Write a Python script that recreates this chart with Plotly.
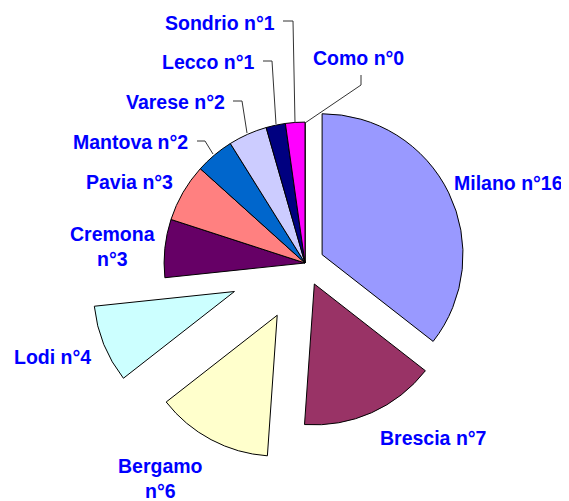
import plotly.graph_objects as go

# the page body adds an 8px margin, so the figure is drawn 8px in
PAGE_OFF = 8
W, H = 569 - PAGE_OFF, 501 - PAGE_OFF

# province, clockwise from 12 o'clock
province = ['Como', 'Milano', 'Brescia', 'Bergamo', 'Lodi', 'Cremona',
            'Pavia', 'Mantova', 'Varese', 'Lecco', 'Sondrio']
numero = [0, 16, 7, 6, 4, 3, 3, 2, 2, 1, 1]
colori = ['#FF00FF', '#9999FF', '#993366', '#FFFFCC', '#CCFFFF', '#660066',
          '#FF8080', '#0066CC', '#CCCCFF', '#000080', '#FF00FF']
pull = [0, 0.135, 0.163, 0.42, 0.54, 0, 0, 0, 0, 0, 0]

# label centres in page pixels, and line breaks
label_pos = {
    'Como': (359, 58), 'Milano': (508, 183), 'Brescia': (433, 438),
    'Bergamo': (160, 478), 'Lodi': (52, 357), 'Cremona': (112, 246),
    'Pavia': (129, 182), 'Mantova': (130, 142), 'Varese': (175, 102),
    'Lecco': (208, 62), 'Sondrio': (220, 23),
}
two_lines = ['Cremona', 'Bergamo']

# leader lines, page pixel points
leaders = [
    [(283, 21), (293, 21), (295, 123)],
    [(263, 61), (272, 61), (276, 124)],
    [(361, 75), (361, 85), (305, 123)],
    [(233, 101), (242, 101), (247, 133)],
    [(197, 141), (205, 141), (213, 154)],
]


def px(x, y):
    return (x - PAGE_OFF) / W, 1 - (y - PAGE_OFF) / H


# pie box: square around the centre (305, 263)
side = 434
cx, cy = 305, 263
x0, y0 = px(cx - side / 2, cy + side / 2)
x1, y1 = px(cx + side / 2, cy - side / 2)

fig = go.Figure(go.Pie(
    labels=province,
    values=numero,
    sort=False,
    direction='clockwise',
    rotation=0,
    pull=pull,
    textinfo='none',
    hoverinfo='label+value',
    showlegend=False,
    marker=dict(colors=colori, line=dict(color='black', width=1)),
    domain=dict(x=[x0, x1], y=[y0, y1]),
))

annotations = []
for name, n in zip(province, numero):
    sep = '<br>' if name in two_lines else ' '
    ax, ay = px(*label_pos[name])
    annotations.append(dict(
        text=f'{name}{sep}n°{n}', x=ax, y=ay, xref='paper', yref='paper',
        xanchor='center', yanchor='middle', showarrow=False,
        font=dict(family='Arial, Liberation Sans', size=19.5, color='#0000FF', weight='bold'),
    ))

shapes = []
for pts in leaders:
    p = [px(*q) for q in pts]
    path = 'M {} {} '.format(*p[0]) + ' '.join('L {} {}'.format(*q) for q in p[1:])
    shapes.append(dict(type='path', path=path, xref='paper', yref='paper',
                       line=dict(color='#333333', width=1)))

fig.update_layout(
    width=W, height=H,
    margin=dict(l=0, r=0, t=0, b=0),
    paper_bgcolor='white',
    plot_bgcolor='white',
    annotations=annotations,
    shapes=shapes,
)

fig.write_html('out.html')
